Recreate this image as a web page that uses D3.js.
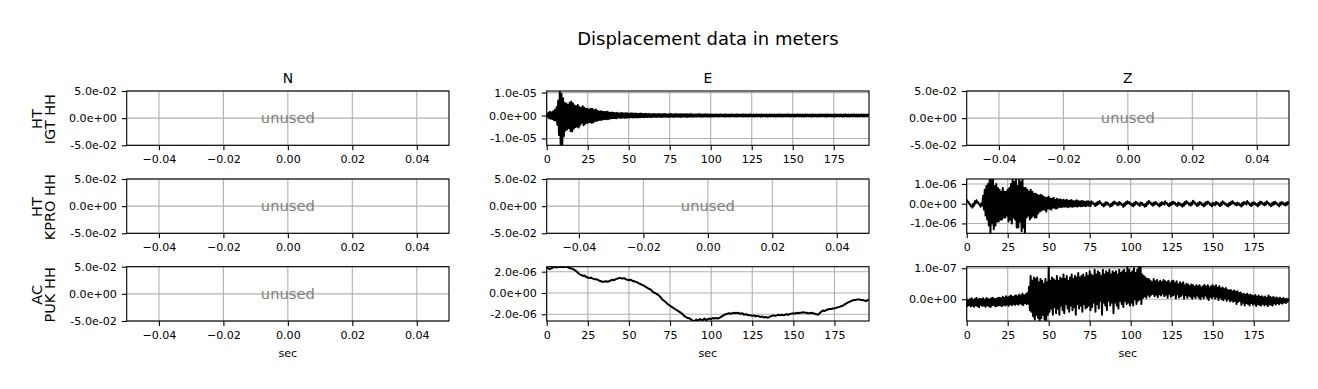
<!DOCTYPE html>
<html>
<head>
<meta charset="utf-8">
<script src="https://cdn.jsdelivr.net/npm/d3@7"></script>
<style>
body { margin: 0; background: #fff; }
text { font-family: "DejaVu Sans", sans-serif; }
</style>
</head>
<body>
<svg id="fig" width="1318" height="389"></svg>
<script>
// labels
var figTitle = "Displacement data in meters";
var chanNames = ["N", "E", "Z"];
var rowNets = ["HT", "HT", "AC"];
var rowStations = ["IGT HH", "KPRO HH", "PUK HH"];
var sampleStep = 1; // sec between the values below

// HT IGT E, max / min in each second, 1e-6 m
var igtEHi = [
	0.8, 1.2, 1.6, 1.3, 1.9, 2.4, 3.6, 6.5, 10.7, 9.5,
	7.5, 5.5, 5.2, 4.6, 5.6, 6.0, 5.2, 4.4, 4.0, 4.6,
	3.6, 3.4, 4.0, 3.4, 3.0, 2.8, 2.6, 3.0, 2.8, 2.3,
	2.6, 2.0, 1.8, 1.9, 1.6, 1.5, 1.5, 1.6, 1.3, 1.2,
	1.3, 1.1, 1.0, 1.2, 0.9, 1.0, 1.1, 0.9, 1.0, 1.0,
	0.8, 0.9, 1.0, 0.8, 0.9, 0.8, 0.7, 0.9, 0.8, 0.7,
	0.8, 0.6, 0.7, 0.6, 0.5, 0.7, 0.6, 0.5, 0.6, 0.6,
	0.5, 0.6, 0.7, 0.5, 0.5, 0.6, 0.6, 0.5, 0.5, 0.6,
	0.5, 0.5, 0.6, 0.5, 0.5, 0.6, 0.5, 0.5, 0.6, 0.5,
	0.4, 0.5, 0.5, 0.6, 0.5, 0.4, 0.5, 0.5, 0.5, 0.4,
	0.5, 0.4, 0.4, 0.5, 0.4, 0.4, 0.5, 0.4, 0.4, 0.5,
	0.4, 0.4, 0.4, 0.5, 0.4, 0.4, 0.5, 0.4, 0.4, 0.4,
	0.5, 0.4, 0.4, 0.4, 0.5, 0.4, 0.4, 0.4, 0.5, 0.4,
	0.4, 0.5, 0.4, 0.4, 0.4, 0.4, 0.5, 0.4, 0.4, 0.4,
	0.4, 0.4, 0.5, 0.4, 0.4, 0.4, 0.4, 0.5, 0.4, 0.4,
	0.4, 0.4, 0.4, 0.5, 0.4, 0.4, 0.4, 0.4, 0.5, 0.4,
	0.4, 0.4, 0.5, 0.4, 0.4, 0.4, 0.4, 0.5, 0.4, 0.4,
	0.4, 0.5, 0.4, 0.4, 0.4, 0.4, 0.5, 0.4, 0.4, 0.4,
	0.4, 0.4, 0.5, 0.4, 0.4, 0.4, 0.4, 0.5, 0.4, 0.4,
	0.4, 0.4, 0.5, 0.4, 0.4, 0.4, 0.4
];
var igtELo = [
	-0.6, -1.2, -1.4, -1.5, -2.0, -2.2, -4.0, -8.5, -12.5, -13.0,
	-9.0, -6.5, -6.0, -5.5, -6.8, -7.0, -5.8, -5.0, -4.8, -5.2,
	-4.0, -3.2, -4.2, -3.6, -3.2, -3.0, -2.8, -3.2, -2.9, -2.3,
	-2.4, -2.0, -1.9, -1.9, -1.6, -1.5, -1.6, -1.6, -1.3, -1.2,
	-1.1, -1.1, -1.2, -0.9, -1.0, -1.0, -0.9, -1.0, -1.0, -0.9,
	-0.9, -0.8, -0.9, -0.8, -0.8, -0.9, -0.7, -0.8, -0.7, -0.8,
	-0.6, -0.7, -0.6, -0.6, -0.7, -0.5, -0.6, -0.6, -0.5, -0.6,
	-0.6, -0.5, -0.6, -0.5, -0.6, -0.5, -0.5, -0.6, -0.5, -0.5,
	-0.5, -0.6, -0.5, -0.5, -0.5, -0.6, -0.5, -0.5, -0.5, -0.5,
	-0.5, -0.5, -0.4, -0.5, -0.5, -0.5, -0.4, -0.5, -0.5, -0.5,
	-0.4, -0.5, -0.4, -0.4, -0.5, -0.4, -0.4, -0.4, -0.5, -0.4,
	-0.4, -0.5, -0.4, -0.4, -0.4, -0.5, -0.4, -0.4, -0.4, -0.5,
	-0.4, -0.4, -0.5, -0.4, -0.4, -0.4, -0.5, -0.4, -0.4, -0.4,
	-0.5, -0.4, -0.4, -0.4, -0.5, -0.4, -0.4, -0.4, -0.4, -0.5,
	-0.4, -0.4, -0.4, -0.5, -0.4, -0.4, -0.4, -0.4, -0.5, -0.4,
	-0.4, -0.5, -0.4, -0.4, -0.4, -0.4, -0.5, -0.4, -0.4, -0.4,
	-0.4, -0.5, -0.4, -0.4, -0.4, -0.5, -0.4, -0.4, -0.4, -0.4,
	-0.5, -0.4, -0.4, -0.4, -0.4, -0.5, -0.4, -0.4, -0.4, -0.4,
	-0.5, -0.4, -0.4, -0.4, -0.5, -0.4, -0.4, -0.4, -0.4, -0.5,
	-0.4, -0.4, -0.4, -0.5, -0.4, -0.4, -0.4
];

// HT KPRO Z, max / min in each second, 1e-7 m
var kproZHi = [
	2.0, 1.0, -0.3, -1.0, 0.0, 1.3, 1.7, 0.7, -0.5, 0.2,
	4, 7, 9, 10, 12.5, 12.5, 12.5, 9, 10, 8,
	7, 6, 8, 6, 6, 7, 8, 10, 12.5, 11,
	12.5, 9, 12.5, 11, 12.5, 8, 8, 7, 6, 7,
	6, 5, 5, 4.5, 4, 4.5, 4, 3.5, 3, 3,
	3.5, 2.5, 2.5, 3, 2, 2.5, 2, 2.2, 1.8, 2,
	1.6, 2.0, 1.4, 1.6, 1.8, 1.3, 1.2, 1.7, 1.3, 1.1,
	1.4, 1.2, 1.0, 1.1, 1.2, 0.9,
	1.2, 0.6, -0.2, 0.4, 0.9, 1.3, 0.3, -0.4, 0.2, 0.8,
	0.4, -0.5, -0.2, 0.6, 1.1, 0.5, 0.2, 0.9, 0.3, -0.6,
	0.1, 0.7, 1.2, 0.8, 0.2, -0.3, 0.4, 1.0, 0.5, -0.1,
	0.6, 0.3, -0.5, -0.2, 0.7, 1.4, 0.6, 0.0, 0.5, 0.9,
	0.3, -0.4, 0.2, 0.8, 0.5, 1.2, 0.4, -0.3, 0.3, 0.7,
	1.0, 0.4, -0.2, 0.6, 0.2, -0.5, 0.1, 0.8, 1.3, 0.5,
	0.0, 0.6, 1.5, 0.7, -0.2, 0.3, 0.9, 0.4, -0.4, 0.2,
	0.8, 1.1, 0.3, -0.3, 0.5, 0.2, 0.9, 0.5, -0.2, 0.4,
	1.2, 0.6, 0.0, -0.4, 0.3, 0.8, 1.3, 0.5, 0.1, 0.6,
	0.2, -0.5, 0.3, 0.9, 0.6, 1.4, 0.4, -0.2, 0.5, 0.8,
	0.3, -0.3, 0.4, 1.1, 0.7, 0.1, 0.6, 1.2, 0.4, -0.3,
	0.2, 0.7, 1.0, 0.3, -0.4, 0.5, 0.9, 0.4, 0.1, 0.6, 0.8
];
var kproZLo = [
	1.0, 0.0, -1.3, -2.0, -1.0, 0.3, 0.7, -0.3, -1.5, -0.8,
	-3, -6, -8, -11, -15, -10, -13, -11, -9, -9,
	-8, -8, -7, -7, -6, -9, -8, -10, -7, -8,
	-12, -12, -9, -14, -12, -15, -7, -6, -8, -7,
	-6, -7, -7, -5, -4, -3.5, -3, -3, -4, -2.5,
	-2.5, -3, -2, -2, -2.5, -2, -1.5, -1.8, -1.5, -1.5,
	-1.4, -1.8, -1.5, -1.3, -1.6, -1.4, -1.2, -1.5, -1.1, -1.3,
	-1.2, -1.0, -1.3, -0.9, -1.1, -1.2,
	0.3, -0.4, -1.2, -0.6, 0.0, 0.3, -0.7, -1.4, -0.8, -0.1,
	-0.6, -1.5, -1.1, -0.4, 0.2, -0.5, -0.8, -0.1, -0.7, -1.6,
	-0.9, -0.2, 0.3, -0.2, -0.8, -1.3, -0.6, 0.1, -0.5, -1.1,
	-0.4, -0.7, -1.5, -1.2, -0.2, 0.5, -0.4, -1.0, -0.5, 0.0,
	-0.7, -1.4, -0.8, -0.1, -0.5, 0.3, -0.6, -1.3, -0.7, -0.2,
	0.1, -0.6, -1.2, -0.4, -0.8, -1.5, -0.9, -0.1, 0.4, -0.5,
	-1.0, -0.4, 0.6, -0.3, -1.2, -0.7, 0.0, -0.6, -1.4, -0.8,
	-0.1, 0.2, -0.7, -1.3, -0.5, -0.8, 0.0, -0.5, -1.2, -0.6,
	0.3, -0.4, -1.0, -1.4, -0.7, -0.1, 0.4, -0.5, -0.9, -0.4,
	-0.8, -1.5, -0.7, 0.0, -0.4, 0.5, -0.6, -1.2, -0.5, -0.1,
	-0.7, -1.3, -0.6, 0.2, -0.3, -0.9, -0.4, 0.3, -0.6, -1.3,
	-0.8, -0.3, 0.1, -0.7, -1.4, -0.5, 0.0, -0.6, -0.9, -0.4, -0.1
];

// AC PUK E, one value a second, 1e-7 m
var pukE = [
	24, 23, 22.5, 23.5, 24, 24.5, 24, 24.5, 24.7, 24.5,
	24.7, 24.5, 24.7, 24, 23.5, 23, 22.5, 21.5, 20.5, 19,
	17.5, 17, 16, 16.5, 15, 14.5, 14, 14.5, 13.5, 13,
	13, 12.5, 11.5, 11, 10.5, 10.5, 11, 10.5, 11, 12,
	12.5, 12, 13, 13.5, 14, 14, 13.5, 14, 13, 12.5,
	12, 12.5, 11.5, 11, 10.5, 10, 9, 8.5, 7.5, 7,
	6, 5, 4, 3.5, 2, 0.5, 0, -1, -2, -3.5,
	-5.5, -7, -8, -9.5, -11, -12, -13, -14, -15, -16,
	-17, -18, -19, -20.5, -22, -23, -23.5, -24, -25, -26.3,
	-26.3, -25, -26.3, -24.5, -25, -25.5, -24, -25.5, -24.5, -24,
	-24.5, -23.5, -24, -23.5, -24, -23.5, -22.5, -21.5, -20.5, -20,
	-19.5, -19, -19.5, -19, -18.5, -19, -18.5, -19, -19.5, -19,
	-20.5, -20, -20.5, -21, -21, -21.5, -21, -22, -21.5, -22,
	-22.5, -22, -23, -22.5, -23, -23, -22, -21.5, -21, -21.5,
	-21, -20.5, -21, -20.5, -21, -20.5, -20, -20.5, -19.5, -19.5,
	-19, -19.5, -18.5, -19, -18.5, -18.5, -18, -18.5, -18.5, -19,
	-19, -18.5, -19, -19.5, -20, -20.5, -19, -17.5, -16.5, -17,
	-16, -15.5, -15, -15, -14.5, -14.5, -14, -13.5, -13, -12.5,
	-12, -11, -10, -9, -8.5, -7.5, -7, -6.5, -6.5, -6,
	-6, -6.5, -6.5, -7, -7.5, -7, -6
];

// AC PUK Z, max / min in each second, 1e-8 m
var pukZHi = [
	0.2, -0.3, 0.0, 0.3, -0.2, 0.1, 0.4, -0.1, 0.2, 0.0,
	0.3, -0.2, 0.4, 0.1, -0.1, 0.3, 0.5, 0.0, 0.2, 0.4,
	0.5, 0.3, 0.8, 0.4, 1.0, 0.6, 0.9, 1.2, 0.7, 1.0,
	1.3, 0.9, 1.5, 1.1, 1.8, 1.2, 1.6, 2.0,
	4.0, 7.5, 6.0, 7.0, 6.5, 7.0, 5.5, 6.5, 6.0, 5.0, 6.5, 5.5,
	10.5, 6.0, 7.0, 6.5, 6.0, 7.5, 6.0, 7.0, 6.5, 8.0,
	6.5, 7.5, 6.0, 7.0, 8.0, 6.5, 7.5, 7.0, 8.5, 7.0,
	7.5, 8.0, 7.0, 8.5, 7.5, 9.0, 8.0, 7.5, 9.5, 8.0,
	9.0, 8.5, 7.5, 9.5, 8.0, 9.0, 8.5, 9.5, 8.0, 9.0,
	8.5, 9.0, 8.0, 9.5, 8.5, 9.0, 9.5, 8.5, 10.5, 9.5,
	8.5, 9.0, 10.0, 8.5, 9.5, 10.5, 10.5, 8.0, 7.5, 7.0, 6.5,
	6.5, 6.0, 5.5, 6.5, 5.8, 6.2, 5.5, 6.0, 5.5, 6.2,
	5.8, 5.5, 6.0, 5.2, 5.8, 6.0, 5.2, 5.8, 4.8, 5.5,
	5.0, 5.5, 4.5, 5.0, 4.8, 4.2, 4.8, 4.5, 4.0, 4.5,
	4.2, 4.5, 3.8, 4.2, 4.6, 4.0, 4.5, 3.8, 4.2, 4.5,
	4.0, 4.5, 3.6, 4.2, 3.5, 3.8, 3.2, 3.6, 3.0, 2.8,
	3.0, 2.5, 2.8, 2.4, 2.6, 2.0, 2.2, 1.6, 1.8, 1.4,
	1.8, 1.3, 1.5, 1.2, 1.0, 1.4, 0.8, 1.2, 0.7, 1.0,
	0.6, 0.9, 0.4, 1.2, 0.7, 0.5, 0.8, 0.3, 0.6, 0.2,
	0.5, 0.1, 0.4, 0.0, 0.2, 0.0
];
var pukZLo = [
	-2.2, -1.8, -2.3, -2.0, -2.4, -1.9, -2.2, -2.5, -1.8, -2.1,
	-2.0, -2.4, -1.9, -2.2, -2.5, -2.0, -1.8, -2.3, -2.1, -1.9,
	-2.0, -2.2, -1.8, -2.0, -1.7, -2.1, -1.6, -1.9, -1.5, -1.8,
	-1.4, -1.7, -1.3, -1.6, -1.9, -1.2, -1.5, -1.4,
	-3.5, -4.0, -5.5, -6.5, -5.0, -6.0, -7.0, -6.0, -5.0, -6.5, -7.0, -5.0,
	-4.0, -3.0, -5.0, -2.5, -4.5, -3.0, -5.0, -2.0, -3.5, -4.5,
	-1.5, -3.0, -4.0, -2.0, -3.5, -2.5, -5.0, -1.5, -3.0, -2.0,
	-4.0, -1.5, -3.0, -2.5, -2.0, -3.5, -2.5, -1.0, -4.0, -1.5,
	-3.0, -0.5, -5.0, -1.0, -2.0, -3.5, -0.5, -2.0, -1.0, -4.5,
	-1.0, -2.0, -3.0, -0.5, -1.5, -2.5, -0.5, -1.5, -1.0, -2.0,
	-1.0, -2.0, 0.0, -1.5, -0.5, 0.0, -1.5, 0.5, 1.0, 0.5, 1.5,
	0.8, 1.5, 1.8, 1.0, 1.5, 0.7, 1.6, 1.2, 1.8, 1.0,
	1.5, 0.5, 1.8, 0.8, 1.2, 1.5, 0.3, 1.6, 0.6, 1.0,
	1.5, 0.2, 1.4, 0.5, 1.2, 0.8, 0.2, 1.0, 0.4, 1.2,
	0.6, 0.0, 1.0, 0.3, 1.2, 0.5, -0.2, 0.8, 0.4, 1.0,
	0.2, 0.8, -0.2, 0.6, 0.0, -0.3, 0.4, -0.5, 0.2, -0.6,
	-0.3, -0.8, -0.5, -1.5, -0.8, -0.5, -1.8, -1.0, -2.0, -1.2,
	-1.5, -2.0, -1.2, -1.8, -1.4, -2.2, -1.5, -1.8, -2.0, -1.4,
	-2.0, -1.5, -2.2, -1.6, -1.8, -2.0, -1.3, -1.7, -1.2, -1.6,
	-1.1, -1.4, -1.0, -1.2, -0.8, -0.6
];

// ticks
var unusedXTicks = [-0.04, -0.02, 0, 0.02, 0.04];
var unusedYTicks = [-0.05, 0, 0.05];
var secTicks = [0, 25, 50, 75, 100, 125, 150, 175];
var igtETicks = [-1e-5, 0, 1e-5];
var kproZTicks = [-1e-6, 0, 1e-6];
var pukETicks = [-2e-6, 0, 2e-6];
var pukZTicks = [0, 1e-7];

var traces = [
	{row: 0, col: 1, hi: igtEHi, lo: igtELo, unit: 1e-6, yTicks: igtETicks},
	{row: 1, col: 2, hi: kproZHi, lo: kproZLo, unit: 1e-7, yTicks: kproZTicks},
	{row: 2, col: 1, vals: pukE, unit: 1e-7, yTicks: pukETicks},
	{row: 2, col: 2, hi: pukZHi, lo: pukZLo, unit: 1e-8, yTicks: pukZTicks}
];

// layout
var colLeft = [126.7, 546.7, 966.7];
var rowTop = [91, 179, 266.7];
var axW = 322.3, axH = 54.3;
var tickLen = 4.9, tickPad = 4.9;

var svg = d3.select('#fig');
svg.append('rect').attr('width', 1318).attr('height', 389).attr('fill', '#fff');

function sci(v){
	if(v == 0) return "0.0e+00";
	let parts = v.toExponential(1).split('e');
	let ex = parseInt(parts[1]);
	return parts[0] + 'e' + (ex < 0 ? '-' : '+') + String(Math.abs(ex)).padStart(2, '0');
}

function tracePoints(tr){
	if(tr.vals)
		return tr.vals.map((v, i) => [i * sampleStep, v * tr.unit]);
	// max then min inside each second
	return tr.hi.flatMap((h, i) => [
		[i * sampleStep, h * tr.unit],
		[(i + 0.5) * sampleStep, tr.lo[i] * tr.unit]
	]);
}

function styleAxis(g){
	g.select('.domain').remove();
	g.selectAll('.tick line').attr('stroke', '#000').attr('stroke-width', 1.1);
	g.selectAll('.tick text')
		.attr('fill', '#000')
		.attr('font-size', 11.1)
		.attr('font-family', '"DejaVu Sans", sans-serif');
}

svg.append('text')
	.attr('x', (colLeft[0] + colLeft[2] + axW) / 2)
	.attr('y', 44.5)
	.attr('text-anchor', 'middle')
	.attr('font-size', 18)
	.text(figTitle);

for(let r = 0; r < 3; r++){
	for(let c = 0; c < 3; c++){
		let tr = traces.find(d => d.row == r && d.col == c);
		let x0 = colLeft[c], y0 = rowTop[r];
		let g = svg.append('g').attr('transform', `translate(${x0}, ${y0})`);

		let x, y, xTicks, yTicks, xFmt, pts;
		if(tr){
			pts = tracePoints(tr);
			x = d3.scaleLinear().domain(d3.extent(pts, d => d[0])).range([0, axW]);
			y = d3.scaleLinear().domain(d3.extent(pts, d => d[1])).range([axH, 0]);
			xTicks = secTicks;
			yTicks = tr.yTicks;
			xFmt = d3.format('d');
		}else{
			x = d3.scaleLinear().domain([-0.05, 0.05]).range([0, axW]);
			y = d3.scaleLinear().domain([-0.05, 0.05]).range([axH, 0]);
			xTicks = unusedXTicks;
			yTicks = unusedYTicks;
			xFmt = d3.format('.2f');
		}

		// grid
		g.append('g').selectAll('line').data(xTicks).join('line')
			.attr('x1', d => x(d)).attr('x2', d => x(d))
			.attr('y1', 0).attr('y2', axH)
			.attr('stroke', '#b0b0b0').attr('stroke-width', 1.1);
		g.append('g').selectAll('line').data(yTicks).join('line')
			.attr('x1', 0).attr('x2', axW)
			.attr('y1', d => y(d)).attr('y2', d => y(d))
			.attr('stroke', '#b0b0b0').attr('stroke-width', 1.1);

		if(tr){
			let clipId = `clip${r}${c}`;
			g.append('clipPath').attr('id', clipId)
				.append('rect').attr('width', axW).attr('height', axH);
			g.append('path')
				.datum(pts)
				.attr('clip-path', `url(#${clipId})`)
				.attr('fill', 'none')
				.attr('stroke', '#000')
				.attr('stroke-width', 2)
				.attr('stroke-linejoin', 'round')
				.attr('d', d3.line().x(d => x(d[0])).y(d => y(d[1])));
		}else{
			g.append('text')
				.attr('x', axW / 2).attr('y', axH / 2)
				.attr('dy', '0.32em')
				.attr('text-anchor', 'middle')
				.attr('font-size', 14.7)
				.attr('fill', '#808080')
				.text('unused');
		}

		g.append('g')
			.attr('transform', `translate(0, ${axH})`)
			.call(d3.axisBottom(x).tickValues(xTicks).tickFormat(xFmt).tickSize(tickLen).tickPadding(tickPad))
			.call(styleAxis);
		g.append('g')
			.call(d3.axisLeft(y).tickValues(yTicks).tickFormat(sci).tickSize(tickLen).tickPadding(tickPad))
			.call(styleAxis);

		g.append('rect')
			.attr('width', axW).attr('height', axH)
			.attr('fill', 'none').attr('stroke', '#000').attr('stroke-width', 1.1);

		if(r == 0){
			g.append('text')
				.attr('x', axW / 2).attr('y', -8.5)
				.attr('text-anchor', 'middle')
				.attr('font-size', 13.9)
				.text(chanNames[c]);
		}
		if(r == 2){
			g.append('text')
				.attr('x', axW / 2).attr('y', axH + 35.7)
				.attr('text-anchor', 'middle')
				.attr('font-size', 11.1)
				.text('sec');
		}
		if(c == 0){
			let lab = g.append('text')
				.attr('transform', `translate(${41.7 - x0}, ${axH / 2 + 1}) rotate(-90)`)
				.attr('text-anchor', 'middle')
				.attr('font-size', 14.5);
			lab.append('tspan').attr('x', 0).attr('y', 0).text(rowNets[r]);
			lab.append('tspan').attr('x', 0).attr('y', 13.6).text(rowStations[r]);
		}
	}
}
</script>
</body>
</html>
